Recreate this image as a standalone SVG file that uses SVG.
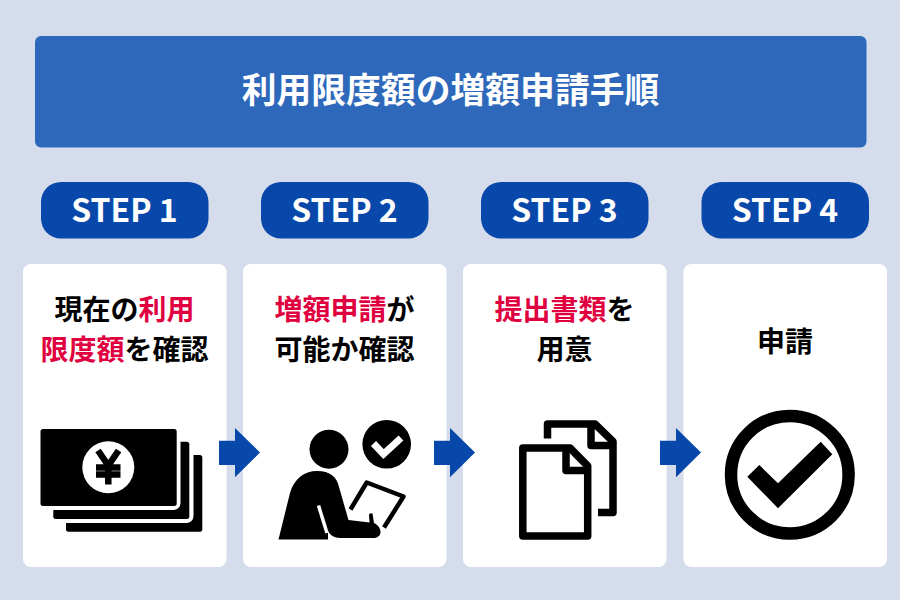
<svg xmlns="http://www.w3.org/2000/svg" width="900" height="600" viewBox="0 0 900 600">
<style>
text{font-family:"Noto Sans CJK JP","Noto Sans",sans-serif;font-weight:700;text-anchor:middle}
.pill{fill:#0848aa}
.pt{fill:#fff;font-size:32px}
.card{fill:#fff}
.ct{fill:#000;font-size:28px}
.r{fill:#e00040}
.arrow{fill:#0848aa}
.ln{fill:none;stroke:#000;stroke-width:7.5;stroke-linejoin:round}
</style>
<rect width="900" height="600" fill="#d5dcec"/>
<g id="title"><rect x="35" y="36" width="831.500" height="111.500" rx="6" fill="#2e68ba"/><text x="450.500" y="103" fill="#fff" font-size="34.800">利用限度額の増額申請手順</text></g>
<g id="step1">
<rect class="pill" x="41" y="182" width="167.500" height="56.500" rx="20"/><text class="pt" x="124.500" y="221.500">STEP 1</text>
<rect class="card" x="23" y="264" width="203.500" height="303" rx="8"/>
<text class="ct" x="124.500" y="320">現在の<tspan class="r">利用</tspan></text>
<text class="ct" x="124.500" y="360"><tspan class="r">限度額</tspan>を確認</text>
<rect x="66" y="455" width="136.300" height="76.700" rx="2.500"/>
<rect x="49.500" y="437.500" width="144" height="85.500" rx="7" fill="#fff"/>
<rect x="53.300" y="441.700" width="136" height="77.300" rx="2.500"/>
<rect x="36.500" y="425" width="144" height="85" rx="7" fill="#fff"/>
<rect x="40.500" y="429" width="136.200" height="77" rx="2.500"/>
<circle cx="108.300" cy="467.300" r="26" fill="#fff"/>
<path d="M98 450.500L108.300 465.500L118.600 450.500M108.300 465.500V484.500M96 467.500H120.500M96 474.500H120.500" fill="none" stroke="#000" stroke-width="6.500"/>
</g>
<g id="step2">
<rect class="pill" x="261" y="182" width="167.500" height="56.500" rx="20"/><text class="pt" x="344.500" y="221.500">STEP 2</text>
<rect class="card" x="243" y="264" width="203.500" height="303" rx="8"/>
<text class="ct" x="344.500" y="320"><tspan class="r">増額申請</tspan>が</text>
<text class="ct" x="344.500" y="360">可能か確認</text>
<circle cx="329" cy="449.300" r="19.500"/>
<circle cx="386.700" cy="444.300" r="24.300"/>
<path d="M373.500 443.500L383.500 454L401 438" fill="none" stroke="#fff" stroke-width="7"/>
<path d="M278.500 539.500L290 493C294 479 304 471 317 471C330 471 337 477 339 487L348.500 520L369.500 522.500L369 514.500A3 3 0 0 1 372.500 513.500L374 523C378 525 380.500 528 380.500 532C380.500 536 377 538 373 538H340C334 538 330 535 328 531V539.500Z"/>
<path d="M318.500 505.500L327 533" fill="none" stroke="#fff" stroke-width="3.500"/>
<path d="M350.500 509.500L366.700 482.500L403.500 496.500L384 527.500" fill="none" stroke="#000" stroke-width="4.500" stroke-linejoin="round"/>
</g>
<g id="step3">
<rect class="pill" x="481" y="182" width="167.500" height="56.500" rx="20"/><text class="pt" x="564.500" y="221.500">STEP 3</text>
<rect class="card" x="463" y="264" width="203.500" height="303" rx="8"/>
<text class="ct" x="564.500" y="320"><tspan class="r">提出書類</tspan>を</text>
<text class="ct" x="564.500" y="360">用意</text>
<path class="ln" d="M547.500 438.500V424H595L613 441.500V512.500H598"/>
<path class="ln" d="M591 424V445.500H613"/>
<path class="ln" d="M522.800 448H570L587.700 466V536H522.800Z"/>
<path class="ln" d="M566 448V470.500H587.700"/>
</g>
<g id="step4">
<rect class="pill" x="701.500" y="182" width="167.500" height="56.500" rx="20"/><text class="pt" x="785" y="221.500">STEP 4</text>
<rect class="card" x="683.500" y="264" width="203.500" height="303" rx="8"/>
<text class="ct" x="785" y="352">申請</text>
<circle cx="789.800" cy="474.700" r="58.800" fill="none" stroke="#000" stroke-width="12.500"/>
<path d="M747.300 476.700L759.300 465L778 483.300L820.700 441.700L832.300 454.300L778 508.300Z"/>
</g>
<g id="connectors">
<path class="arrow" d="M219 440.700H235V428L260 452.500L235 477.300V465H219Z"/>
<path class="arrow" d="M434 440.700H450V428L475 452.500L450 477.300V465H434Z"/>
<path class="arrow" d="M660 440.700H676V428L701 452.500L676 477.300V465H660Z"/>
</g>
</svg>
